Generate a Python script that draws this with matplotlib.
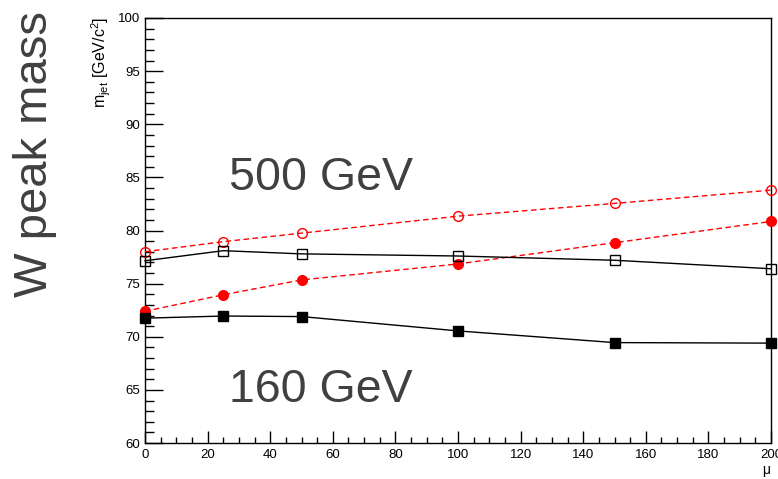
import matplotlib
matplotlib.use("Agg")
import matplotlib.pyplot as plt
from matplotlib.ticker import MultipleLocator

plt.rcParams['font.family'] = ['Liberation Sans', 'DejaVu Sans']
plt.rcParams['mathtext.fontset'] = 'custom'
plt.rcParams['mathtext.rm'] = 'Liberation Sans'
plt.rcParams['mathtext.it'] = 'Liberation Sans'

mu = [0, 25, 50, 100, 150, 200]
red_open = [78.0, 78.95, 79.75, 81.35, 82.55, 83.8]
red_filled = [72.4, 73.95, 75.35, 76.85, 78.85, 80.85]
black_open = [77.15, 78.1, 77.8, 77.6, 77.2, 76.4]
black_filled = [71.75, 71.95, 71.9, 70.55, 69.45, 69.4]

fig = plt.figure(figsize=(7.78, 4.79), dpi=100)
ax = fig.add_axes([145/778, 1-443/479, (771-145)/778, (443-18)/479])

ms = 7
ax.plot(mu, red_open, color='red', ls=(0, (4, 2.5)), lw=1, marker='o', ms=ms,
        mfc='none', mec='red', mew=1, clip_on=False, zorder=3)
ax.plot(mu, red_filled, color='red', ls=(0, (4, 2.5)), lw=1, marker='o', ms=ms,
        mfc='red', mec='red', clip_on=False, zorder=3)
ax.plot(mu, black_open, color='black', ls='-', lw=1, marker='s', ms=ms,
        mfc='none', mec='black', mew=1, clip_on=False, zorder=3)
ax.plot(mu, black_filled, color='black', ls='-', lw=1, marker='s', ms=ms,
        mfc='black', mec='black', clip_on=False, zorder=3)

ax.set_xlim(0, 200)
ax.set_ylim(60, 100)
ax.xaxis.set_major_locator(MultipleLocator(20))
ax.xaxis.set_minor_locator(MultipleLocator(5))
ax.yaxis.set_major_locator(MultipleLocator(5))
ax.yaxis.set_minor_locator(MultipleLocator(1))
ax.tick_params(axis='both', which='both', direction='in', top=False, right=False,
               labelsize=9.5, width=1)
ax.tick_params(axis='y', which='major', length=13, pad=3.5)
ax.tick_params(axis='y', which='minor', length=6.5)
ax.tick_params(axis='x', which='major', length=9, pad=4)
ax.tick_params(axis='x', which='minor', length=4.5)
for s in ax.spines.values():
    s.set_linewidth(1)

fig.text(101/778, 1-17/479, r'$\mathregular{m_{jet}}$ [GeV/c$^{\mathregular{2}}$]',
         rotation=90, ha='center', va='top', fontsize=11.5)
fig.text(766/778, 1-470/479, 'μ', ha='center', va='center', fontsize=10)

gray = '#404040'
fig.text(35/778, 1-154/479, 'W peak mass', rotation=90, ha='center', va='center',
         fontsize=34, color=gray)
fig.text(229/778, 1-190/479, '500 GeV', ha='left', va='baseline', fontsize=33.5, color=gray)
fig.text(229/778, 1-402/479, '160 GeV', ha='left', va='baseline', fontsize=33.5, color=gray)

fig.savefig('out.png', dpi=100)
